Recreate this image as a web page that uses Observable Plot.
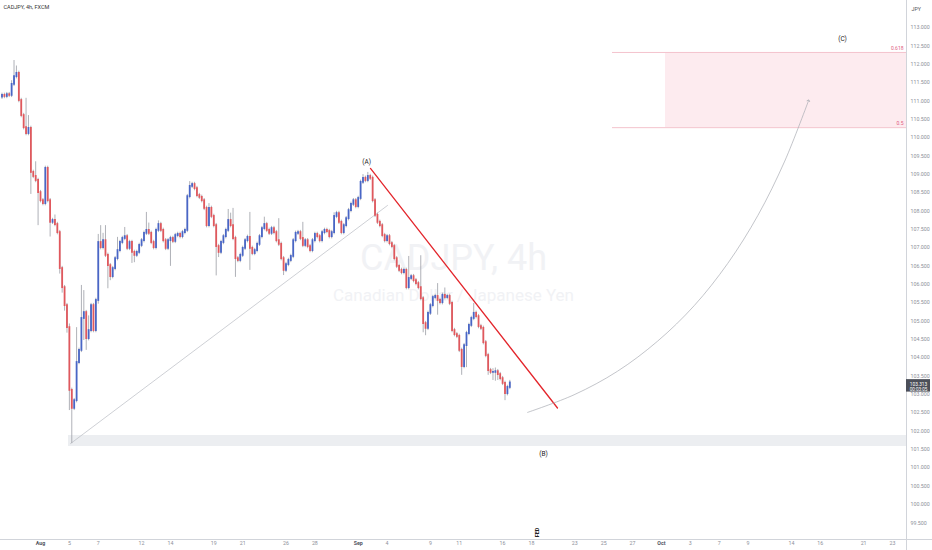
<!DOCTYPE html>
<html>
<head>
<meta charset="utf-8">
<script src="https://cdn.jsdelivr.net/npm/d3@7"></script>
<script src="https://cdn.jsdelivr.net/npm/@observablehq/plot@0.6"></script>
<style>
  html, body { margin: 0; padding: 0; background: #ffffff; }
  #chart { width: 932px; height: 550px; overflow: hidden; }
</style>
</head>
<body>
<div id="chart"></div>
<script>
// ---- Data (4h candles, CADJPY, FXCM) ----
// time axis in trading-day units: Aug 1 = 0 (weekends removed), 6 candles per day
const firstCandleDay = -16 / 6;
const firstOpen = 111.10;
const closes = [
  111.15, 111.12, 111.17, 111.15, 111.45, 111.66, 111.75, 111.01, 110.60, 110.27,
  110.11, 110.25, 109.05, 108.94, 108.83, 108.50, 108.28, 108.20, 109.16, 108.28,
  107.69, 107.74, 107.63, 107.41, 106.43, 105.91, 105.42, 104.82, 103.11, 102.62,
  102.83, 103.87, 104.20, 105.07, 105.23, 104.52, 104.74, 105.42, 104.74, 105.56,
  107.14, 107.00, 107.19, 106.79, 106.51, 106.21, 106.43, 106.70, 106.92, 107.14,
  107.25, 107.30, 106.98, 107.14, 106.87, 106.79, 106.87, 107.06, 107.19, 107.39,
  107.47, 107.39, 107.14, 107.00, 107.47, 107.63, 107.47, 107.19, 106.98, 107.19,
  107.25, 107.17, 107.33, 107.36, 107.30, 107.41, 107.47, 108.39, 108.67, 108.72,
  108.61, 108.42, 108.37, 108.28, 108.07, 107.60, 108.07, 107.85, 107.60, 107.03,
  106.87, 107.14, 107.30, 107.47, 107.74, 107.60, 107.25, 106.70, 106.65, 106.79,
  106.98, 107.19, 107.28, 106.98, 106.84, 106.92, 107.09, 107.30, 107.52, 107.63,
  107.47, 107.39, 107.52, 107.41, 107.19, 107.09, 106.70, 106.38, 106.54, 106.65,
  106.76, 107.19, 107.39, 107.41, 107.25, 107.06, 107.19, 107.03, 106.92, 107.19,
  107.36, 107.30, 107.19, 107.41, 107.47, 107.44, 107.30, 107.41, 107.85, 107.93,
  107.69, 107.41, 107.60, 107.79, 108.01, 108.18, 108.28, 108.12, 108.34, 108.78,
  108.89, 108.83, 108.94, 108.89, 108.28, 107.88, 107.69, 107.60, 107.33, 107.19,
  107.30, 107.11, 107.03, 106.70, 106.49, 106.38, 106.32, 106.38, 105.91, 106.16,
  106.21, 106.10, 106.02, 105.91, 105.61, 104.93, 104.80, 105.21, 105.42, 105.64,
  105.67, 105.56, 105.50, 105.70, 105.64, 105.67, 105.48, 104.74, 104.63, 104.58,
  104.20, 103.76, 104.33, 104.66, 104.88, 105.07, 105.21, 105.12, 104.85, 104.80,
  104.41, 104.06, 103.65, 103.60, 103.60, 103.62, 103.54, 103.43, 103.30, 103.02,
  103.19, 103.313
];
const wickUp = [
  0.06,0.06,0.06,0.06,0.10,0.44,0.20,0.06,0.06,0.06,
  0.80,0.35,0.06,0.06,0.40,0.06,0.06,0.06,0.06,0.06,
  0.06,0.06,0.15,0.06,0.06,0.06,0.06,0.06,0.10,0.06,
  0.06,0.95,0.06,0.90,0.60,0.06,0.40,0.06,0.06,0.06,
  0.22,0.46,0.20,0.41,0.06,0.06,0.06,0.06,0.36,0.06,
  0.06,0.25,0.06,0.06,0.06,0.06,0.06,0.06,0.06,0.06,
  0.49,0.20,0.06,0.06,0.06,0.10,0.06,0.06,0.06,0.06,
  0.06,0.06,0.06,0.06,0.06,0.06,0.06,0.06,0.13,0.06,
  0.06,0.06,0.06,0.06,0.06,0.06,0.13,0.06,0.06,0.06,
  0.06,0.06,0.06,0.06,0.30,0.20,0.47,0.06,0.06,0.06,
  0.06,0.06,0.06,0.68,0.06,0.06,0.06,0.06,0.06,0.20,
  0.06,0.06,0.06,0.06,0.06,0.60,0.06,0.06,0.06,0.06,
  0.06,0.06,0.06,0.06,0.06,0.44,0.06,0.06,0.06,0.06,
  0.06,0.06,0.06,0.06,0.06,0.06,0.06,0.06,0.10,0.06,
  0.06,0.06,0.06,0.06,0.06,0.06,0.06,0.06,0.06,0.06,
  0.10,0.06,0.11,0.06,0.06,0.06,0.06,0.06,0.06,0.06,
  0.06,0.06,0.06,0.06,0.06,0.06,0.06,0.06,0.06,0.60,
  0.06,0.06,0.06,0.06,0.87,0.06,0.06,0.06,0.06,0.06,
  0.06,0.35,0.06,0.06,0.20,0.06,0.06,0.06,0.06,0.06,
  0.06,0.06,0.06,0.06,0.06,0.06,0.27,0.06,0.06,0.06,
  0.06,0.06,0.06,0.06,0.10,0.10,0.06,0.06,0.06,0.06,
  0.06,0.07
];
const wickDown = [
  0.06,0.06,0.06,0.06,0.06,0.06,0.06,0.06,0.06,0.06,
  0.06,0.06,0.60,0.06,0.06,0.90,0.06,0.06,0.06,0.06,
  0.40,0.06,0.06,0.06,0.15,0.15,0.15,0.15,0.55,0.96,
  0.06,0.06,0.06,0.06,0.60,0.32,0.06,0.06,0.06,0.06,
  0.10,0.06,0.06,0.06,0.63,0.11,0.06,0.06,0.06,0.06,
  0.06,0.06,0.06,0.06,0.30,0.20,0.06,0.06,0.06,0.06,
  0.06,0.06,0.06,0.06,0.06,0.06,0.06,0.06,0.06,0.06,
  0.70,0.06,0.06,0.06,0.06,0.06,0.06,0.06,0.06,0.06,
  0.06,0.06,0.06,0.06,0.06,0.06,0.06,0.06,0.06,0.80,
  0.14,0.06,0.06,0.06,0.06,0.06,0.06,0.51,0.06,0.06,
  0.06,0.06,0.06,0.60,0.06,0.06,0.06,0.06,0.06,0.06,
  0.06,0.06,0.06,0.06,0.06,0.06,0.06,0.14,0.06,0.06,
  0.06,0.06,0.06,0.06,0.06,0.06,0.06,0.06,0.06,0.06,
  0.06,0.06,0.06,0.06,0.06,0.06,0.06,0.06,0.06,0.06,
  0.06,0.06,0.06,0.06,0.06,0.06,0.06,0.06,0.06,0.06,
  0.06,0.06,0.06,0.06,0.06,0.06,0.06,0.06,0.06,0.06,
  0.06,0.06,0.06,0.06,0.06,0.06,0.06,0.06,0.06,0.06,
  0.06,0.06,0.06,0.06,0.06,0.25,0.20,0.06,0.06,0.06,
  0.06,0.40,0.06,0.06,0.06,0.06,0.06,0.06,0.06,0.06,
  0.06,0.24,0.06,0.60,0.06,0.06,0.06,0.06,0.06,0.06,
  0.06,0.06,0.13,0.06,0.22,0.24,0.16,0.06,0.06,0.19,
  0.06,0.06
];

// time-axis ticks (trading-day index) and labels
const tickDays   = [0, 2, 4, 7, 9, 12, 14, 17, 19, 22, 24, 27, 29, 32, 34, 37, 39, 41, 43, 45, 47, 49, 52, 54, 57, 59];
const tickLabels = ["Aug","5","7","12","14","19","21","26","28","Sep","4","9","11","16","18","23","25","27","Oct","3","7","9","14","16","21","23"];
const monthLabels = ["Aug", "Sep", "Oct"];
// price-axis ticks
const priceTicks = [99.5,100,100.5,101,101.5,102,102.5,103,103.5,104,104.5,105,105.5,106,106.5,107,107.5,108,108.5,109,109.5,110,110.5,111,111.5,112,112.5,113];
const lastPrice = 103.313;
const countdown = "00:03:05";

// annotation anchors (trading day, price)
const supportZone = {x1: 1.94, y1: 101.58, y2: 101.88};
const fibZone = {xLine: 39.61, xFill: 43.28, top: 112.32, bottom: 110.27};
const fibLabels = ["0.618", "0.5"];
const trendLine = [{d: 2.08, p: 101.66}, {d: 24.03, p: 108.15}];
const redLine = [{d: 22.85, p: 109.16}, {d: 35.80, p: 102.63}];
const projection = [
  {d: 33.73, p: 102.51}, {d: 36.95, p: 102.99}, {d: 39.95, p: 103.63},
  {d: 42.73, p: 104.45}, {d: 45.27, p: 105.42}, {d: 47.59, p: 106.57},
  {d: 49.68, p: 107.88}, {d: 51.54, p: 109.36}, {d: 53.19, p: 111.01}
];
const waveLabels = [
  {d: 22.58, p: 109.35, t: "(A)"},
  {d: 34.83, p: 101.39, t: "(B)"},
  {d: 55.54, p: 112.70, t: "(C)"}
];
const fedDay = 34.55;

// ---- build candle table ----
const candles = closes.map((c, i) => {
  const o = i === 0 ? firstOpen : closes[i - 1];
  return {
    t: firstCandleDay + i / 6,
    open: o, close: c,
    high: Math.max(o, c) + wickUp[i],
    low: Math.min(o, c) - wickDown[i],
    up: c >= o
  };
});

const xDomain = [-2.77, 59.97];
const yDomain = [99.073, 113.736];
const xRight = xDomain[1];
const labelMap = new Map(tickDays.map((d, i) => [d, tickLabels[i]]));
const monthDays = tickDays.filter((d, i) => monthLabels.includes(tickLabels[i]));
const dayDays = tickDays.filter((d, i) => !monthLabels.includes(tickLabels[i]));

const FONT = "Roboto, 'Liberation Sans', sans-serif";

const chart = Plot.plot({
  width: 932,
  height: 550,
  marginLeft: 0,
  marginRight: 26,
  marginTop: 0,
  marginBottom: 12,
  x: {domain: xDomain, axis: null},
  y: {domain: yDomain, axis: null},
  style: {background: "#ffffff", fontFamily: FONT, overflow: "visible"},
  marks: [
    // support zone
    Plot.rect([supportZone], {x1: "x1", x2: () => xRight, y1: "y1", y2: "y2", fill: "#eceef1"}),
    // fib target zone
    Plot.rect([fibZone], {x1: "xFill", x2: () => xRight, y1: "bottom", y2: "top", fill: "#fdebef"}),
    Plot.ruleY([fibZone.top, fibZone.bottom], {x1: fibZone.xLine, x2: xRight, stroke: "#f4c3cd", strokeWidth: 1}),
    Plot.text(fibLabels, {x: xRight, y: (d, i) => i === 0 ? fibZone.top : fibZone.bottom, dx: -3, dy: -4, textAnchor: "end", fontSize: 5, fill: "#e0607f"}),
    // watermark
    Plot.text(["CADJPY, 4h"], {frameAnchor: "middle", dy: -11, fontSize: 36, fill: "#f1f2f5"}),
    Plot.text(["Canadian Dollar / Japanese Yen"], {frameAnchor: "middle", dy: 26, fontSize: 17, fill: "#f1f2f5"}),
    // trend line from the low
    Plot.line(trendLine, {x: "d", y: "p", stroke: "#b9bcc3", strokeWidth: 0.7}),
    // candles
    Plot.ruleX(candles, {x: "t", y1: "low", y2: "high", stroke: "#9a9da5", strokeWidth: 0.8}),
    Plot.ruleX(candles, {x: "t", y1: "open", y2: "close", stroke: d => d.up ? "#4966c6" : "#e0585d", strokeWidth: 1.8, strokeLinecap: "square"}),
    // channel line
    Plot.line(redLine, {x: "d", y: "p", stroke: "#e3262c", strokeWidth: 1.3}),
    // projected path
    Plot.line(projection, {x: "d", y: "p", curve: "catmull-rom", stroke: "#a9acb3", strokeWidth: 0.7, markerEnd: "arrow"}),
    // wave labels
    Plot.text(waveLabels, {x: "d", y: "p", text: "t", fontSize: 6.5, fill: "#222"}),
    // FED event
    Plot.text(["FED"], {x: fedDay, frameAnchor: "bottom", dy: -6, rotate: -90, fontSize: 5.5, fontWeight: "bold", fill: "#222"}),
    // header
    Plot.text(["CADJPY, 4h, FXCM"], {frameAnchor: "top-left", dx: 3, dy: 7, lineAnchor: "middle", textAnchor: "start", fontSize: 5.5, fill: "#333"}),
    // pane borders
    Plot.ruleX([xRight], {y1: yDomain[0] - 12 / 36.69, y2: yDomain[1], stroke: "#d1d4da", strokeWidth: 1}),
    Plot.ruleY([yDomain[0] - 1 / 36.69], {x1: xDomain[0], x2: xDomain[0] + 932 / 14.44, stroke: "#d1d4da", strokeWidth: 1}),
    // price axis
    Plot.axisY({anchor: "right", ticks: priceTicks, tickFormat: d3.format(".3f"), tickSize: 0, tickPadding: 4, fontSize: 5.3, color: "#8d9099"}),
    Plot.text(["JPY"], {frameAnchor: "top-right", dx: 5, dy: 7, textAnchor: "start", fontSize: 5.3, fill: "#555"}),
    // last price label
    Plot.rect([lastPrice], {x1: xRight, x2: xRight + 24 / 14.44, y1: d => d - 0.25, y2: d => d + 0.09, fill: "#4c4f59"}),
    Plot.text([lastPrice], {x: xRight, y: d => d, dx: 12, dy: 1.5, text: d => d.toFixed(3), fontSize: 4.8, fill: "#ffffff"}),
    Plot.text([countdown], {x: xRight, y: lastPrice, dx: 12, dy: 6.5, fontSize: 4.6, fill: "#ffffff"}),
    // time axis
    Plot.axisX({ticks: dayDays, tickFormat: d => labelMap.get(d), tickSize: 0, tickPadding: 3, fontSize: 5.3, color: "#8d9099"}),
    Plot.axisX({ticks: monthDays, tickFormat: d => labelMap.get(d), tickSize: 0, tickPadding: 3, fontSize: 5.3, fontWeight: "bold", color: "#50535e"})
  ]
});
document.getElementById("chart").appendChild(chart);
</script>
</body>
</html>
